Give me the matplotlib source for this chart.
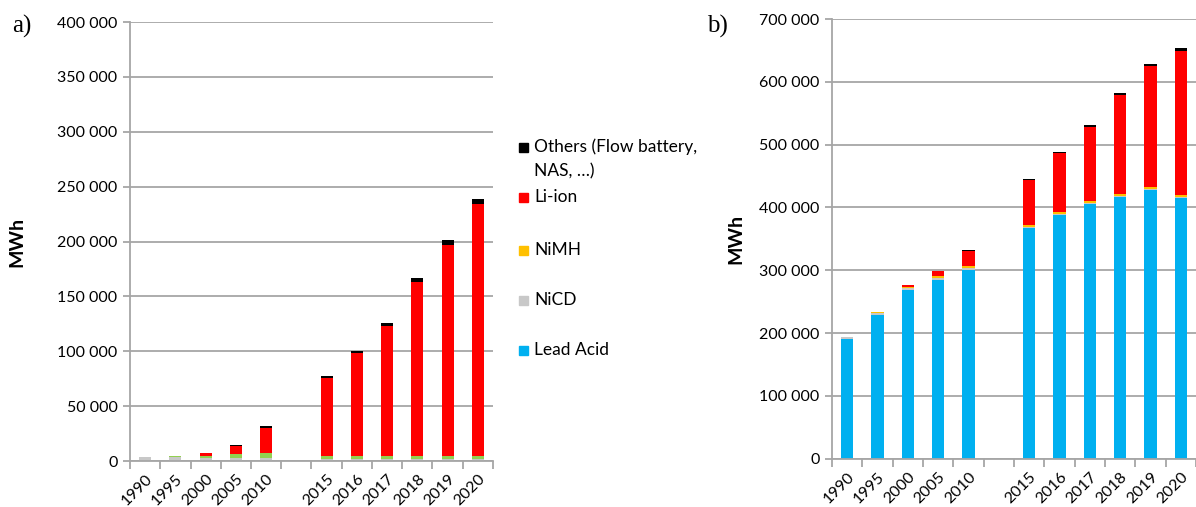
import numpy as np
import matplotlib
matplotlib.use("Agg")
import matplotlib.pyplot as plt
from matplotlib.patches import Rectangle
from matplotlib.ticker import FuncFormatter

plt.rcParams["font.family"] = ["Lato", "DejaVu Sans"]

# === 데이터 (단위: 1000 MWh) ===
years = ["1990", "1995", "2000", "2005", "2010", "",
         "2015", "2016", "2017", "2018", "2019", "2020"]
lead_acid = [190, 229, 269, 285, 300, 0, 368, 388, 405, 416, 428, 415]
nicd = [3.5, 3.5, 3.0, 3.0, 3.0, 0, 1.5, 1.5, 1.5, 1.5, 1.5, 1.5]
nimh = [0.3, 1.0, 1.5, 3.0, 4.5, 0, 3.0, 3.5, 3.5, 3.5, 3.5, 3.5]
li_ion = [0.3, 0.5, 3.0, 7.5, 23.0, 0, 71.5, 93.0, 118.0, 158.0, 192.0, 229.0]
others = [0.0, 0.0, 0.0, 1.0, 1.5, 0, 1.5, 2.0, 3.0, 3.5, 4.0, 4.8]

legend_labels = ["Others (Flow battery,\nNAS, …)", "Li-ion", "NiMH", "NiCD", "Lead Acid"]
legend_colors = ["#000000", "#FF0000", "#FFC000", "#C8C8C8", "#00B0F0"]

GRID = "#A6A6A6"
W, H = 1196, 507
x = np.arange(len(years))


def fmt(v, pos):
    return f"{int(round(v * 1000)):,}".replace(",", " ")


def style_axes(ax, ymax, step, label_x):
    ax.set_xlim(-0.5, len(years) - 0.5)
    ax.set_ylim(0, ymax)
    ax.set_yticks(np.arange(0, ymax + 1, step))
    ax.yaxis.set_major_formatter(FuncFormatter(fmt))
    ax.grid(axis="y", color=GRID, linewidth=1.3)
    ax.set_axisbelow(True)
    for s in ["top", "right"]:
        ax.spines[s].set_visible(False)
    for s in ["left", "bottom"]:
        ax.spines[s].set_color(GRID)
        ax.spines[s].set_linewidth(1.3)
    ax.tick_params(axis="y", length=5, color=GRID, width=1.3, labelsize=11.5, pad=4)
    # 카테고리 경계에 눈금, 라벨은 막대 중앙
    ax.set_xticks(np.arange(-0.5, len(years), 1.0))
    ax.set_xticklabels([])
    ax.set_xticks(x, minor=True)
    ax.set_xticklabels(years, minor=True, rotation=45, ha="right",
                       rotation_mode="anchor", fontsize=11.5)
    ax.tick_params(axis="x", which="major", length=6, color=GRID, width=1.3)
    ax.tick_params(axis="x", which="minor", length=0, pad=8)
    ax.set_ylabel("MWh", fontsize=14, fontweight="bold")
    ax.yaxis.set_label_coords(label_x, 0.5)


fig = plt.figure(figsize=(W / 100, H / 100), dpi=100)

# ───── a) Lead Acid 제외 ─────
ax1 = fig.add_axes([0.1087, 0.0907, 0.3035, 0.8659])
w = 0.4
b = np.zeros(len(years))
for vals, col in [(nicd, "#C8C8C8"), (nimh, "#92D050"), (li_ion, "#FF0000"), (others, "#000000")]:
    ax1.bar(x, vals, w, bottom=b, color=col, linewidth=0)
    b += np.array(vals)
style_axes(ax1, 400, 50, -0.289)

# ───── b) 전체 ─────
ax2 = fig.add_axes([0.6957, 0.0953, 0.3043, 0.8672])
b = np.zeros(len(years))
for vals, col in [(lead_acid, "#00B0F0"), (nicd, "#C8C8C8"), (nimh, "#FFC000"),
                  (li_ion, "#FF0000"), (others, "#000000")]:
    ax2.bar(x, vals, w, bottom=b, color=col, linewidth=0)
    b += np.array(vals)
style_axes(ax2, 700, 100, -0.24)

# ───── 범례 (수동 배치, 픽셀 기준) ─────
leg_py = [147, 197, 250, 300, 350]
for lab, col, py in zip(legend_labels, legend_colors, leg_py):
    yy = 1 - py / H
    fig.patches.append(Rectangle((519 / W, yy - 4.5 / H), 9 / W, 9 / H,
                                 transform=fig.transFigure, color=col))
    lines = lab.split("\n")
    for i, ln in enumerate(lines):
        fig.text(534 / W, 1 - (py + 24 * i) / H, ln, fontsize=12.5, va="center")

fig.text(0.010, 0.935, "a)", fontsize=18, family="Liberation Serif")
fig.text(0.591, 0.935, "b)", fontsize=18, family="Liberation Serif")

plt.savefig("out.png", dpi=100)
